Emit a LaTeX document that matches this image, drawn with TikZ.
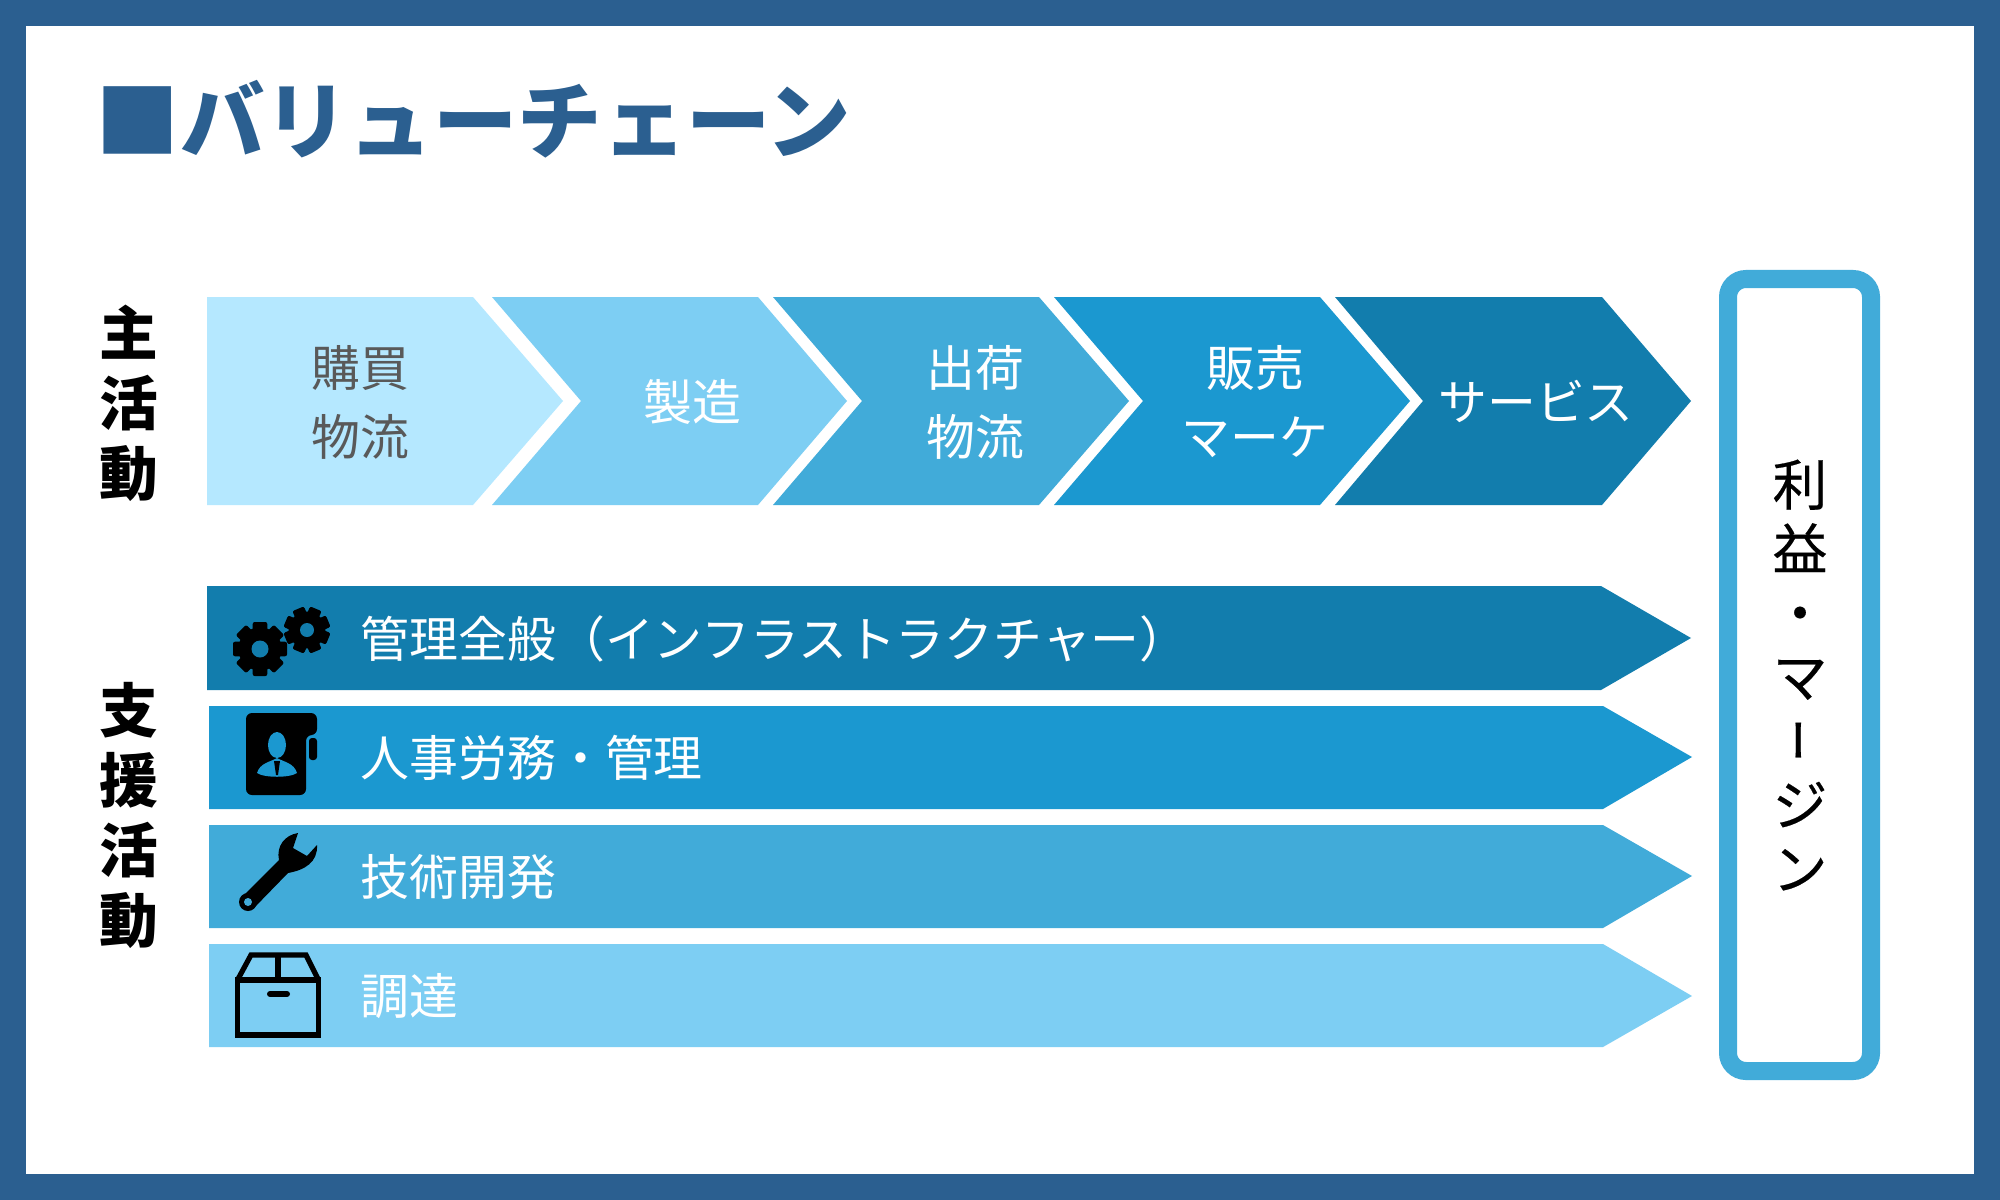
\documentclass[tikz,border=0pt]{standalone}
\usepackage{fontspec}
\setmainfont{Noto Sans CJK JP}
\newfontfamily\medfont[FakeBold=0.4]{Noto Sans CJK JP}
\definecolor{framecol}{HTML}{2B5F90}
\definecolor{palecol}{HTML}{B5E8FF}
\definecolor{lightcol}{HTML}{7DCEF3}
\definecolor{midcol}{HTML}{41ABD9}
\definecolor{strongcol}{HTML}{1B98D0}
\definecolor{deepcol}{HTML}{127DAD}
\definecolor{greytext}{HTML}{595959}
\tikzset{
	lbl/.style={inner sep=0pt, align=center, white, font=\fontsize{13.9}{19.6}\selectfont},
	barlbl/.style={lbl, anchor=west},
	side/.style={inner sep=0pt, align=center, font=\fontsize{16.7}{19.9}\selectfont\bfseries},
	margintxt/.style={inner sep=0pt, text height=0.88em, text depth=0.12em, font=\fontsize{15.6}{18}\selectfont\medfont},
	boxline/.style={line width=0.052cm, line join=miter}
}
\begin{document}
\begin{tikzpicture}[x=0.01cm, y=-0.01cm]
	\fill[framecol] (0,0) rectangle (2000,1200);
	\fill[white] (26,26) rectangle (1974,1174);
	\node[anchor=west, inner sep=0pt, framecol, font=\fontsize{24}{28}\selectfont\bfseries] (title) at (95,119) {■バリューチェーン};

	\node[side] (primary) at (129,403) {主\\活\\動};
	\node[side] (support) at (129,815) {支\\援\\活\\動};

	\fill[palecol] (207,297) -- (473,297) -- (563,401) -- (473,505) -- (207,505) -- cycle;
	\fill[lightcol] (492,297) -- (758,297) -- (847,401) -- (758,505) -- (492,505) -- (581,401) -- cycle;
	\fill[midcol] (773,297) -- (1039,297) -- (1129,401) -- (1039,505) -- (773,505) -- (862,401) -- cycle;
	\fill[strongcol] (1054,297) -- (1320,297) -- (1410,401) -- (1320,505) -- (1054,505) -- (1143,401) -- cycle;
	\fill[deepcol] (1335,297) -- (1602,297) -- (1691,401) -- (1602,505) -- (1335,505) -- (1423,401) -- cycle;

	\node[lbl, text=greytext] (purchase) at (360,402) {購買\\物流};
	\node[lbl] (making) at (692,402) {製造};
	\node[lbl] (shipping) at (975,402) {出荷\\物流};
	\node[lbl] (sales) at (1255,402) {販売\\マーケ};
	\node[lbl] (service) at (1536,401) {サービス};

	\fill[deepcol] (207,586) -- (1601,586) -- (1691,638) -- (1601,690) -- (207,690) -- cycle;
	\fill[strongcol] (209,706) -- (1603,706) -- (1692,757) -- (1603,809) -- (209,809) -- cycle;
	\fill[midcol] (209,825) -- (1603,825) -- (1692,876) -- (1603,928) -- (209,928) -- cycle;
	\fill[lightcol] (209,944) -- (1603,944) -- (1692,996) -- (1603,1047) -- (209,1047) -- cycle;

	\node[barlbl] (infra) at (360,639) {管理全般（インフラストラクチャー）};
	\node[barlbl] (hr) at (360,758) {人事労務・管理};
	\node[barlbl] (tech) at (360,877) {技術開発};
	\node[barlbl] (procure) at (360,996) {調達};

	% gears
	\foreach \gx/\gy/\gr/\gh/\gp in {260/649/27/8.5/0, 307/630/23/7/22.5} {
		\fill (\gx,\gy) circle (\gr*0.8);
		\foreach \a in {0,45,...,315}
			\fill[rotate around={\a+\gp:(\gx,\gy)}, rounded corners=0.02cm] ({\gx-\gr*0.27},{\gy-\gr}) rectangle ({\gx+\gr*0.27},{\gy-\gr*0.6});
		\fill[deepcol] (\gx,\gy) circle (\gh);
	}

	% person file
	\fill[rounded corners=0.06cm] (246,713) -- (317,713) -- (317,735) -- (306,735) -- (306,795) -- (246,795) -- cycle;
	\fill[rounded corners=0.03cm] (309,738) -- (317,738) -- (317,760) -- (309,760) -- cycle;
	\fill[strongcol] (277,745) ellipse (9 and 13);
	\fill[strongcol] (257,773) .. controls (260,763) and (270,762) .. (277,758) .. controls (284,762) and (294,763) .. (297,773) .. controls (290,778) and (264,778) .. (257,773) -- cycle;
	\fill (274,761) -- (280,761) -- (278,775) -- (276,775) -- cycle;

	% wrench
	\fill (298,833) .. controls (285,835) and (276,846) .. (279,860) -- (242,897) -- (253,909) -- (288,873) .. controls (305,870) and (318,862) .. (317,845) -- (307,856) -- (293,848) -- cycle;
	\fill (248,902) circle (9);
	\fill[midcol] (248,902) circle (4);

	% box
	\draw[boxline] (237.5,980) rectangle (318.5,1035);
	\draw[boxline] (237.5,980) -- (251,955) -- (306,955) -- (318.5,980);
	\draw[boxline] (278,955) -- (278,980);
	\draw[boxline, line width=0.06cm, line cap=round] (270,994) -- (287,994);

	\draw[midcol, line width=0.18cm, rounded corners=0.18cm] (1728,279) rectangle (1871,1071);
	\foreach \c/\r/\px/\py [count=\i] in {利/0/1800/492, 益/0/1800/556, ・/0/1800/620, マ/0/1800/684, {\scalebox{0.8}[1]{ー}}/90/1806/740, ジ/0/1800/812, ン/0/1800/876}
		\node[margintxt, rotate=\r, name=margin\i] at (\px,\py) {\c};
\end{tikzpicture}
\end{document}
